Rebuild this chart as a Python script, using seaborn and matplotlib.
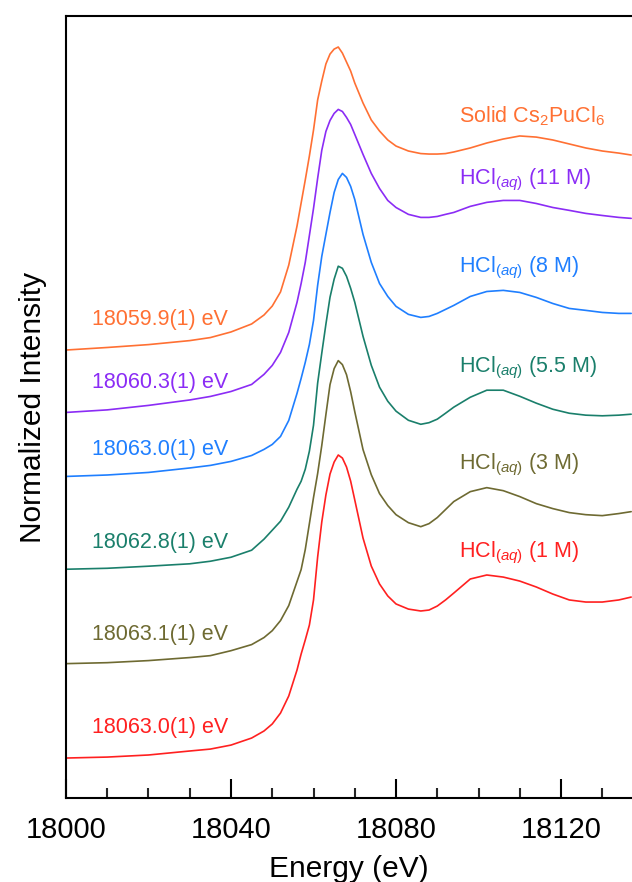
import matplotlib
matplotlib.use("Agg")
import matplotlib.pyplot as plt
import seaborn as sns
import pandas as pd
from matplotlib.ticker import MultipleLocator

# Energy grid (eV) shared by all spectra
energy = [18000, 18010, 18020, 18030, 18035, 18040, 18045, 18048, 18050, 18052,
          18054, 18056, 18057, 18058, 18059, 18060, 18061, 18062, 18063, 18064,
          18065, 18066, 18067, 18068, 18069, 18070, 18072, 18074, 18076, 18078,
          18080, 18083, 18086, 18088, 18090, 18092, 18094, 18098, 18102, 18106,
          18110, 18114, 18118, 18122, 18126, 18130, 18134, 18137]

# Normalized intensities
solid = [0.000, 0.016, 0.034, 0.059, 0.078, 0.113, 0.163, 0.219, 0.275, 0.363,
         0.531, 0.775, 0.919, 1.063, 1.213, 1.375, 1.563, 1.681, 1.788, 1.850,
         1.881, 1.894, 1.856, 1.800, 1.744, 1.669, 1.544, 1.438, 1.369, 1.313,
         1.275, 1.244, 1.228, 1.225, 1.225, 1.228, 1.238, 1.263, 1.294, 1.319,
         1.338, 1.331, 1.313, 1.288, 1.263, 1.244, 1.231, 1.219]
hcl_11 = [0.000, 0.016, 0.044, 0.078, 0.100, 0.131, 0.175, 0.238, 0.294, 0.375,
          0.500, 0.688, 0.806, 0.938, 1.106, 1.275, 1.463, 1.638, 1.756, 1.825,
          1.869, 1.894, 1.881, 1.844, 1.800, 1.738, 1.613, 1.494, 1.400, 1.325,
          1.281, 1.238, 1.219, 1.219, 1.225, 1.238, 1.250, 1.288, 1.313, 1.325,
          1.325, 1.306, 1.281, 1.263, 1.244, 1.231, 1.219, 1.213]
hcl_8 = [0.000, 0.009, 0.025, 0.053, 0.069, 0.094, 0.131, 0.169, 0.200, 0.250,
         0.350, 0.519, 0.613, 0.713, 0.825, 0.975, 1.194, 1.375, 1.513, 1.650,
         1.775, 1.856, 1.894, 1.869, 1.813, 1.731, 1.513, 1.338, 1.206, 1.125,
         1.063, 1.013, 0.994, 1.000, 1.019, 1.044, 1.069, 1.125, 1.156, 1.163,
         1.150, 1.119, 1.081, 1.050, 1.038, 1.025, 1.019, 1.019]
hcl_55 = [0.000, 0.006, 0.019, 0.034, 0.050, 0.075, 0.119, 0.188, 0.244, 0.300,
          0.388, 0.500, 0.550, 0.625, 0.738, 0.900, 1.163, 1.350, 1.531, 1.700,
          1.813, 1.894, 1.881, 1.831, 1.756, 1.669, 1.456, 1.275, 1.138, 1.050,
          0.988, 0.931, 0.906, 0.916, 0.938, 0.975, 1.013, 1.075, 1.119, 1.119,
          1.081, 1.038, 1.000, 0.975, 0.963, 0.959, 0.963, 0.969]
hcl_3 = [0.000, 0.006, 0.019, 0.038, 0.050, 0.081, 0.119, 0.163, 0.206, 0.269,
         0.363, 0.513, 0.588, 0.713, 0.875, 1.038, 1.188, 1.363, 1.556, 1.744,
         1.844, 1.894, 1.869, 1.806, 1.700, 1.575, 1.338, 1.181, 1.063, 0.988,
         0.931, 0.881, 0.856, 0.875, 0.913, 0.963, 1.013, 1.075, 1.100, 1.081,
         1.044, 1.000, 0.969, 0.944, 0.931, 0.925, 0.938, 0.950]
hcl_1 = [0.000, 0.006, 0.019, 0.044, 0.056, 0.081, 0.125, 0.169, 0.213, 0.281,
         0.388, 0.550, 0.650, 0.738, 0.831, 0.988, 1.256, 1.475, 1.644, 1.775,
         1.850, 1.894, 1.875, 1.819, 1.731, 1.613, 1.375, 1.200, 1.088, 1.013,
         0.963, 0.931, 0.919, 0.925, 0.950, 0.988, 1.031, 1.119, 1.144, 1.131,
         1.106, 1.069, 1.025, 0.988, 0.975, 0.975, 0.988, 1.006]

spectra = [solid, hcl_11, hcl_8, hcl_55, hcl_3, hcl_1]
offsets = [2.80, 2.41, 2.01, 1.43, 0.84, 0.25]
colors = ['#FF7033', '#8B2CF5', '#1F7FFF', '#1A7F6B', '#6E6A32', '#FF2020']

names = [r'Solid Cs$_2$PuCl$_6$',
         r'HCl$_{\mathit{(aq)}}$ (11 M)',
         r'HCl$_{\mathit{(aq)}}$ (8 M)',
         r'HCl$_{\mathit{(aq)}}$ (5.5 M)',
         r'HCl$_{\mathit{(aq)}}$ (3 M)',
         r'HCl$_{\mathit{(aq)}}$ (1 M)']
edges = ['18059.9(1) eV', '18060.3(1) eV', '18063.0(1) eV',
         '18062.8(1) eV', '18063.1(1) eV', '18063.0(1) eV']

# label positions (data coords)
name_y = [4.26, 3.86, 3.31, 2.69, 2.08, 1.53]
edge_y = [2.99, 2.60, 2.18, 1.60, 1.02, 0.44]

sns.set_theme(style="white")
plt.rcParams['font.family'] = ['Liberation Sans', 'DejaVu Sans']
plt.rcParams['mathtext.fontset'] = 'custom'
plt.rcParams['mathtext.rm'] = 'Liberation Sans'
plt.rcParams['mathtext.it'] = 'Liberation Sans:italic'

fig = plt.figure(figsize=(6.32, 8.82), dpi=100)
ax = fig.add_axes([0.1044, 0.0952, 0.8956, 0.8866])

# stacked spectra
for data, off, c in zip(spectra, offsets, colors):
    df = pd.DataFrame({'Energy': energy, 'Intensity': [v + off for v in data]})
    sns.lineplot(data=df, x='Energy', y='Intensity', color=c, lw=1.2, ax=ax)

for t, y, c in zip(names, name_y, colors):
    ax.text(18095.3, y, t, color=c, fontsize=15.5, va='center', ha='left')
for t, y, c in zip(edges, edge_y, colors):
    ax.text(18006.3, y, t, color=c, fontsize=15.5, va='center', ha='left')

ax.set_xlim(18000, 18137.2)
ax.set_ylim(0, 4.8875)
ax.set_yticks([])
ax.xaxis.set_major_locator(MultipleLocator(40))
ax.xaxis.set_minor_locator(MultipleLocator(10))
ax.tick_params(axis='x', which='major', direction='in', length=14, width=1.5,
               labelsize=21, pad=13, colors='black', bottom=True)
ax.tick_params(axis='x', which='minor', direction='in', length=7.5, width=1.5,
               bottom=True)

for s in ['left', 'bottom', 'top']:
    ax.spines[s].set_color('black')
    ax.spines[s].set_linewidth(1.5)
ax.spines['right'].set_visible(False)

ax.set_xlabel('Energy (eV)', fontsize=21.5, labelpad=8, color='black')
ax.set_ylabel('Normalized Intensity', fontsize=21.5, labelpad=14, color='black')

fig.savefig('out.png', dpi=100)
